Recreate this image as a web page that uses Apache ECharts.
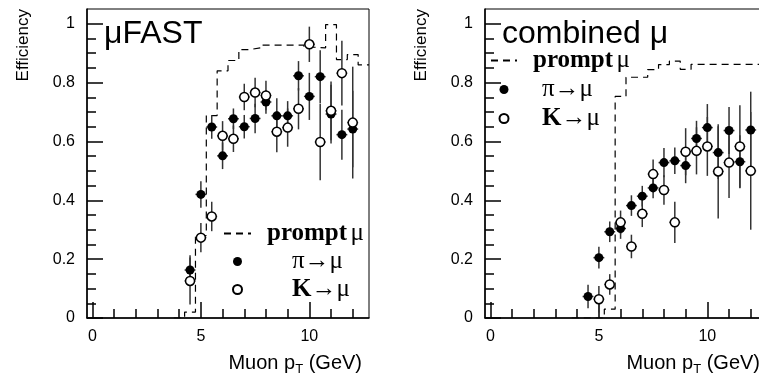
<!DOCTYPE html>
<html>
<head>
<meta charset="utf-8">
<script src="https://cdn.jsdelivr.net/npm/echarts@6/dist/echarts.min.js"></script>
<style>
html, body { margin: 0; padding: 0; background: #fff; }
#main { width: 759px; height: 377px; }
</style>
</head>
<body>
<div id="main"></div>
<script>
// bin centres (GeV) of the measured points
var ptBins = [4.5, 5, 5.5, 6, 6.5, 7, 7.5, 8, 8.5, 9, 9.5, 10, 10.5, 11, 11.5, 12];

// muFAST
var fastPi    = [0.163, 0.42, 0.649, 0.551, 0.677, 0.65, 0.678, 0.734, 0.687, 0.687, 0.823, 0.753, 0.82, 0.693, 0.623, 0.642];
var fastPiErr = [0.05, 0.045, 0.04, 0.045, 0.035, 0.04, 0.05, 0.04, 0.06, 0.05, 0.05, 0.08, 0.09, 0.1, 0.085, 0.13];
var fastK     = [0.126, 0.273, 0.345, 0.619, 0.609, 0.751, 0.766, 0.756, 0.633, 0.647, 0.711, 0.93, 0.598, 0.704, 0.832, 0.664];
var fastKErr  = [0.08, 0.05, 0.05, 0.05, 0.045, 0.045, 0.05, 0.05, 0.07, 0.065, 0.07, 0.06, 0.13, 0.1, 0.11, 0.19];

// combined muon
var combPi    = [0.073, 0.205, 0.293, 0.304, 0.382, 0.414, 0.442, 0.528, 0.534, 0.518, 0.61, 0.647, 0.562, 0.637, 0.531, 0.639];
var combPiErr = [0.04, 0.037, 0.035, 0.035, 0.035, 0.035, 0.035, 0.05, 0.045, 0.06, 0.06, 0.08, 0.09, 0.08, 0.09, 0.13];
var combK     = [null, 0.064, 0.114, 0.325, 0.243, 0.354, 0.489, 0.435, 0.325, 0.565, 0.568, 0.583, 0.498, 0.528, 0.583, 0.5];
var combKErr  = [null, 0.045, 0.035, 0.04, 0.04, 0.045, 0.05, 0.05, 0.07, 0.08, 0.08, 0.1, 0.16, 0.12, 0.14, 0.2];

// prompt muon histograms (bin width 0.5 GeV)
var promptBins  = [4, 4.5, 5, 5.5, 6, 6.5, 7, 7.5, 8, 8.5, 9, 9.5, 10, 10.5, 11, 11.5, 12, 12.5];
var fastPrompt  = [0, 0.02, 0.28, 0.688, 0.84, 0.875, 0.912, 0.918, 0.927, 0.927, 0.927, 0.927, 0.92, 0.918, 0.997, 0.878, 0.895, 0.86];
var combPrompt  = [0, 0, 0, 0.03, 0.753, 0.818, 0.818, 0.844, 0.861, 0.873, 0.845, 0.862, 0.862, 0.862, 0.862, 0.862, 0.862, 0.862];

// axis ticks
var xMajor = [0, 5, 10];
var xMinor = [1, 2, 3, 4, 6, 7, 8, 9, 11, 12];
var yMajor = [0, 0.2, 0.4, 0.6, 0.8, 1];
var yMinor = [0.05, 0.1, 0.15, 0.25, 0.3, 0.35, 0.45, 0.5, 0.55, 0.65, 0.7, 0.75, 0.85, 0.9, 0.95];

var halfBin = 0.25;
var sans = 'Liberation Sans';
var serif = 'Liberation Serif';

var pairs = function (vals, errs) {
	var out = [];
	for (var i = 0; i < ptBins.length; i++) {
		if (vals[i] == null) continue;
		out.push([ptBins[i], vals[i], errs[i]]);
	}
	return out;
};

var histPoints = function (vals) {
	var out = [];
	for (var i = 0; i < promptBins.length; i++) {
		out.push([promptBins[i] - halfBin, vals[i]]);
	}
	var last = promptBins.length - 1;
	out.push([promptBins[last] + halfBin, vals[last]]);
	return out;
};

var errorBars = function (params, api) {
	var x = api.value(0), y = api.value(1), e = api.value(2);
	var lo = api.coord([x, y - e]);
	var hi = api.coord([x, y + e]);
	var l = api.coord([x - halfBin, y]);
	var r = api.coord([x + halfBin, y]);
	var st = { stroke: '#333', lineWidth: 1.5 };
	return {
		type: 'group',
		children: [
			{ type: 'line', shape: { x1: lo[0], y1: lo[1], x2: hi[0], y2: hi[1] }, style: st },
			{ type: 'line', shape: { x1: l[0], y1: l[1], x2: r[0], y2: r[1] }, style: st }
		]
	};
};

var makeX = function (g, major) {
	return {
		type: 'value', gridIndex: g, min: -0.25, max: 12.75,
		position: 'bottom',
		name: major ? 'Muon p{s|T} (GeV)' : '',
		nameLocation: 'end', nameGap: -7, nameMoveOverlap: false,
		nameTextStyle: {
			fontFamily: sans, fontSize: 20, color: '#000', align: 'right', verticalAlign: 'top',
			lineHeight: 22, padding: [34, 0, 0, 0],
			rich: { s: { fontFamily: sans, fontSize: 13, lineHeight: 13, padding: [12, 0, 0, 0], color: '#000' } }
		},
		axisLine: { show: major, onZero: false, lineStyle: { color: '#000', width: 1.5 } },
		axisTick: { show: true, inside: true, length: major ? 16 : 9, customValues: major ? xMajor : xMinor, lineStyle: { color: '#000', width: 1.5 } },
		axisLabel: { show: major, customValues: xMajor, margin: 11, fontFamily: sans, fontSize: 16, color: '#000' },
		splitLine: { show: false }
	};
};

var makeY = function (g, major) {
	return {
		type: 'value', gridIndex: g, min: 0, max: 1.05,
		position: 'left',
		name: major ? 'Efficiency' : '',
		nameLocation: 'end', nameGap: 0, nameRotate: 90, nameMoveOverlap: false,
		nameTextStyle: { fontFamily: sans, fontSize: 17, color: '#000', align: 'right', verticalAlign: 'bottom', padding: [0, 0, 55, 0] },
		axisLine: { show: major, onZero: false, lineStyle: { color: '#000', width: 1.5 } },
		axisTick: { show: true, inside: true, length: major ? 16 : 9, customValues: major ? yMajor : yMinor, lineStyle: { color: '#000', width: 1.5 } },
		axisLabel: { show: major, customValues: yMajor, margin: 12, fontFamily: sans, fontSize: 16, color: '#000' },
		splitLine: { show: false }
	};
};

var panelSeries = function (g, prompt, pi, piErr, k, kErr) {
	var ax = { xAxisIndex: g * 2, yAxisIndex: g * 2 };
	return [
		Object.assign({
			name: 'prompt μ', type: 'line', step: 'end', data: histPoints(prompt),
			symbol: 'none', showSymbol: false, z: 1,
			lineStyle: { color: '#000', width: 1.2, type: [7, 5] },
			itemStyle: { color: 'rgba(0,0,0,0)', borderWidth: 0 }
		}, ax),
		Object.assign({
			type: 'custom', renderItem: errorBars, data: pairs(pi, piErr), z: 2, clip: true
		}, ax),
		Object.assign({
			type: 'custom', renderItem: errorBars, data: pairs(k, kErr), z: 2, clip: true
		}, ax),
		Object.assign({
			name: 'π→μ', type: 'scatter', data: pairs(pi, piErr), symbol: 'circle', symbolSize: 9, z: 3,
			itemStyle: { color: '#000', opacity: 1 }
		}, ax),
		Object.assign({
			name: 'K→μ', type: 'scatter', data: pairs(k, kErr), symbol: 'circle', symbolSize: 9, z: 3,
			itemStyle: { color: '#fff', borderColor: '#000', borderWidth: 1.5, opacity: 1 }
		}, ax)
	];
};

var legendRich = function (lead1, lead2) {
	return {
		g1: { width: lead1 },
		g2: { width: lead2 },
		b: { fontFamily: serif, fontWeight: 'bold', fontSize: 25, color: '#000' },
		r: { fontFamily: serif, fontSize: 25, color: '#000' }
	};
};

var legendFmt = function (name) {
	if (name === 'prompt μ') return '{g1| }{b|prompt} {r|μ}';
	if (name === 'π→μ') return '{g2| }{r|π→μ}';
	return '{g2| }{b|K}{r|→μ}';
};

var myChart = echarts.init(document.getElementById('main'), null, { renderer: 'canvas' });

var option = {
	animation: false,
	backgroundColor: '#fff',
	title: [
		{ text: 'μFAST', left: 104, top: 18, padding: 0, textStyle: { fontFamily: sans, fontSize: 32, fontWeight: 'normal', color: '#000' } },
		{ text: 'combined μ', left: 502, top: 18, padding: 0, textStyle: { fontFamily: sans, fontSize: 32, fontWeight: 'normal', color: '#000' } }
	],
	legend: [
		{
			orient: 'vertical', left: 223, top: 221, padding: 0, itemGap: 3,
			itemWidth: 27, itemHeight: 9,
			data: ['prompt μ', 'π→μ', 'K→μ'],
			formatter: legendFmt,
			textStyle: { rich: legendRich(11, 36) }
		},
		{
			orient: 'vertical', left: 490, top: 48, padding: 0, itemGap: 4,
			itemWidth: 26, itemHeight: 9,
			data: ['prompt μ', 'π→μ', 'K→μ'],
			formatter: legendFmt,
			textStyle: { rich: legendRich(11, 20) }
		}
	],
	grid: [
		{ left: 87, top: 9, width: 282, height: 309, show: true, borderColor: '#000', borderWidth: 1, outerBoundsMode: 'none', containLabel: false },
		{ left: 485, top: 9, width: 282, height: 309, show: true, borderColor: '#000', borderWidth: 1, outerBoundsMode: 'none', containLabel: false }
	],
	xAxis: [makeX(0, true), makeX(0, false), makeX(1, true), makeX(1, false)],
	yAxis: [makeY(0, true), makeY(0, false), makeY(1, true), makeY(1, false)],
	series: [].concat(
		panelSeries(0, fastPrompt, fastPi, fastPiErr, fastK, fastKErr),
		panelSeries(1, combPrompt, combPi, combPiErr, combK, combKErr)
	)
};

myChart.setOption(option);
</script>
</body>
</html>
